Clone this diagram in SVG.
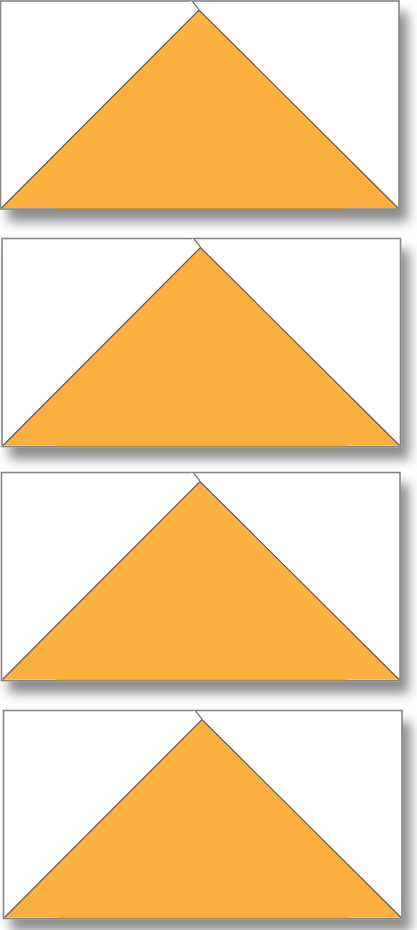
<svg xmlns="http://www.w3.org/2000/svg" xmlns:xlink="http://www.w3.org/1999/xlink" width="417" height="930" viewBox="0 0 417 930">
<style>
.box{fill:#ffffff;stroke:#858585;stroke-width:1.6;filter:url(#sh)}
.tri{fill:#FBB040;stroke:none}
.side{fill:none;stroke:#5a5a5a;stroke-width:1.2;stroke-linejoin:miter}
.base{stroke:#c8923a;stroke-width:1.2}
.tickw{stroke:#ffffff;stroke-width:1.2}
.tickg{stroke:#777777;stroke-width:1.2}
</style>
<defs>
<filter id="sh" x="-10%" y="-10%" width="130%" height="150%">
<feDropShadow dx="8" dy="12" stdDeviation="6" flood-color="#000" flood-opacity="0.45"/>
</filter>
<g id="node">
<rect class="box" x="0" y="0" width="398.5" height="208"/>
<polygon class="tri" points="1,207 198.5,9 397.5,207"/>
<polyline class="side" points="1,207 198.5,9 397.5,207"/>
<line class="base" x1="55" y1="207.5" x2="345" y2="207.5"/>
<line class="tickw" x1="190" y1="0.5" x2="196.5" y2="8"/>
<line class="tickg" x1="192" y1="0.5" x2="198.5" y2="8.5"/>
</g>
</defs>
<g id="node1" transform="translate(0.5,1)"><use xlink:href="#node"/></g>
<g id="node2" transform="translate(2,238.5)"><use xlink:href="#node"/></g>
<g id="node3" transform="translate(1.5,472.5)"><use xlink:href="#node"/></g>
<g id="node4" transform="translate(3.5,710.5)"><use xlink:href="#node"/></g>
<g id="connectors"></g>
</svg>
